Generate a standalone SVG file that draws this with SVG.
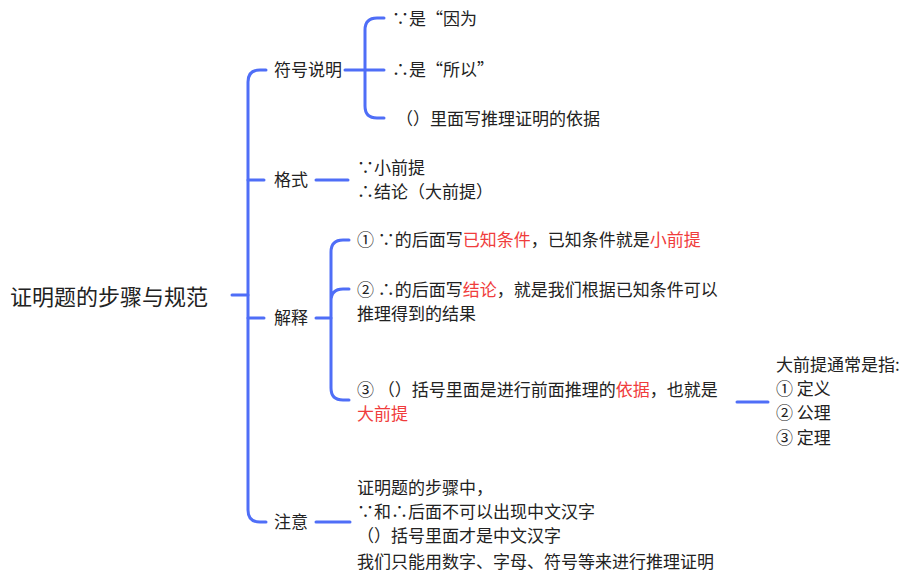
<svg xmlns="http://www.w3.org/2000/svg" width="916" height="587" viewBox="0 0 916 587">
<style>
text{font-family:"Noto Sans CJK SC","Noto Sans",sans-serif;font-size:17px;fill:#222}
.r{fill:#f03c3c}
.c path{fill:none;stroke:#4f6ef7;stroke-width:3;stroke-linecap:round}
</style>
<rect width="916" height="587" fill="#fff"/>
<g class="c" id="connectors">
<path d="M232 295H248"/>
<path d="M266 70H260Q248 70 248 82V510Q248 522 260 522H266"/>
<path d="M248 180H264M248 318H264"/>
<path d="M345 70H364"/>
<path d="M384 18H377Q365 18 365 30V106Q365 118 377 118H384M365 70H384"/>
<path d="M316 180H348"/>
<path d="M316 318H331"/>
<path d="M349 240H343Q331 240 331 252V388Q331 400 343 400H349M331 301Q331 289 343 289H349"/>
<path d="M737 402H768"/>
<path d="M316 522H350"/>
</g>
<g id="root"><text x="10" y="305" style="font-size:22px">证明题的步骤与规范</text></g>
<g id="n1"><text x="274" y="76">符号说明</text></g>
<g id="n1a"><text x="392" y="25">∵是“因为</text></g>
<g id="n1b"><text x="392" y="76">∴是“所以”</text></g>
<g id="n1c"><text x="396" y="125">（）里面写推理证明的依据</text></g>
<g id="n2"><text x="274" y="186">格式</text></g>
<g id="n2a"><text x="357" y="174">∵小前提</text><text x="357" y="198">∴结论（大前提）</text></g>
<g id="n3"><text x="274" y="324">解释</text></g>
<g id="n3a"><text x="357" y="246">① ∵的后面写<tspan class="r">已知条件</tspan>，已知条件就是<tspan class="r">小前提</tspan></text></g>
<g id="n3b"><text x="357" y="296">② ∴的后面写<tspan class="r">结论</tspan>，就是我们根据已知条件可以</text><text x="357" y="320">推理得到的结果</text></g>
<g id="n3c"><text x="357" y="396">③ （）括号里面是进行前面推理的<tspan class="r">依据</tspan>，也就是</text><text x="357" y="420" class="r">大前提</text></g>
<g id="n3d"><text x="776" y="371">大前提通常是指:</text><text x="776" y="395">① 定义</text><text x="776" y="419">② 公理</text><text x="776" y="444">③ 定理</text></g>
<g id="n4"><text x="274" y="528">注意</text></g>
<g id="n4a"><text x="357" y="494">证明题的步骤中，</text><text x="357" y="518">∵和∴后面不可以出现中文汉字</text><text x="357" y="542">（）括号里面才是中文汉字</text><text x="357" y="568">我们只能用数字、字母、符号等来进行推理证明</text></g>
</svg>
